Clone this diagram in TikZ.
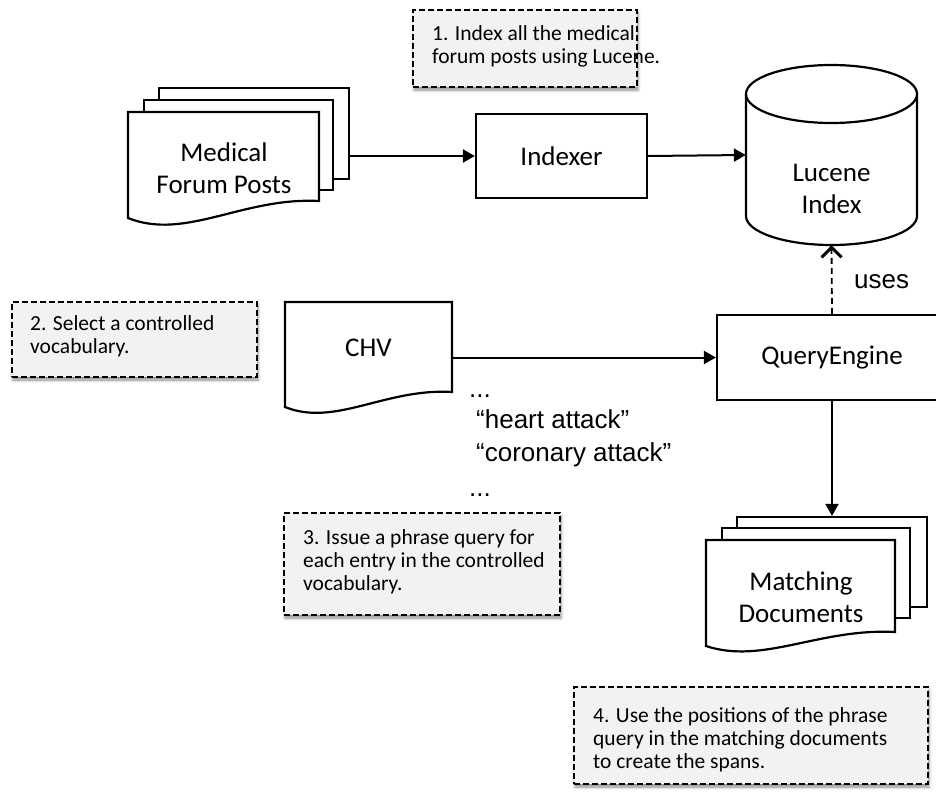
\documentclass[tikz,border=0pt]{standalone}
\usepackage{fontspec}
\setmainfont{Carlito}
\newfontfamily\arialf{Liberation Sans}
\usetikzlibrary{arrows.meta,shadows.blur,calc}
\tikzset{
 shp/.style={draw=black,line width=2.2pt,fill=white},
 layer/.style={shp,inner sep=0pt},
 lbl/.style={font=\fontsize{27}{32}\selectfont,align=center,inner sep=0pt},
 procbox/.style={shp,lbl},
 note/.style={draw=black,line width=1.6pt,dash pattern=on 6pt off 3pt,fill=black!5,
   blur shadow={shadow xshift=1pt,shadow yshift=-3pt,shadow blur radius=3pt,shadow opacity=45},inner sep=0pt},
 notetext/.style={anchor=west,align=left,inner sep=0pt,font=\fontsize{21.5}{23}\selectfont},
 arr/.style={line width=2pt,-{Triangle[length=12pt,width=13pt]}},
 usesarr/.style={line width=1.8pt,dash pattern=on 6pt off 4pt,-{Straight Barb[length=10pt,width=20pt,line width=3pt]}},
 qtext/.style={font=\arialf\fontsize{26}{31}\selectfont,anchor=base west,inner sep=0pt}
}
\newcommand\mydoc[5]{\draw[shp] (#1,#2) -- (#3,#2) -- (#3,#4) .. controls ({#1+0.6*(#3-#1)},{#4-4}) and ({#1+0.3*(#3-#1)},{#4+2.35*#5}) .. (#1,{#4+#5}) -- cycle;}
\begin{document}
\begin{tikzpicture}[x=1pt,y=-1pt]
\useasboundingbox (0,0) rectangle (936,792);
\clip (0,0) rectangle (936,792);
% notes
\node[note, minimum width=224pt, minimum height=77pt] (n1) at (525,48.5) {};
\node[notetext] (n1t) at (432,46) {1. Index all the medical\\forum posts using Lucene.};
\node[note, minimum width=245pt, minimum height=75pt] (n2) at (134.5,339.5) {};
\node[notetext] (n2t) at (30,336) {2. Select a controlled\\vocabulary.};
\node[note, minimum width=276pt, minimum height=102pt] (n3) at (422,564) {};
\node[notetext] (n3t) at (303,561.5) {3. Issue a phrase query for\\each entry in the controlled\\vocabulary.};
\node[note, minimum width=354pt, minimum height=97pt] (n4) at (751,735.5) {};
\node[notetext] (n4t) at (593,740) {4. Use the positions of the phrase\\query in the matching documents\\to create the spans.};
% medical forum posts
\node[layer, minimum width=190pt, minimum height=91pt] (mfp3) at (254,133.5) {};
\node[layer, minimum width=189pt, minimum height=90pt] (mfp2) at (238.5,145) {};
\mydoc{128}{112}{319}{201}{17}
\node[lbl] (mfp) at (224,168) {Medical\\Forum Posts};
% indexer
\node[procbox, minimum width=171pt, minimum height=84pt] (idx) at (561.5,156) {Indexer};
% cylinder
\node[minimum width=171pt, minimum height=180pt, inner sep=0pt] (cyl) at (831.5,155) {};
\draw[shp] (746,94) -- (746,216) .. controls (746,232) and (784.3,245) .. (831.5,245) .. controls (878.7,245) and (917,232) .. (917,216) -- (917,94);
\draw[shp] (831.5,94) ellipse [x radius=85.5pt, y radius=29pt];
\node[lbl] (cylt) at (831.5,189) {Lucene\\Index};
% CHV
\mydoc{285}{302}{452}{392}{15}
\node[lbl, minimum width=167pt, minimum height=90pt] (chv) at (368.5,348) {CHV};
% query engine
\node[procbox, minimum width=230pt, minimum height=85pt] (qe) at (832,357.5) {QueryEngine};
% matching documents
\node[layer, minimum width=190pt, minimum height=90pt] (md3) at (832,562) {};
\node[layer, minimum width=188pt, minimum height=90pt] (md2) at (816,573) {};
\mydoc{706}{540}{895}{632}{14}
\node[lbl] (md) at (801,597.5) {Matching\\Documents};
% texts
\node[qtext] (q1) at (469,397) {...};
\node[qtext] (q2) at (476,428) {“heart attack”};
\node[qtext] (q3) at (476,461) {“coronary attack”};
\node[qtext] (q4) at (469,496) {...};
\node[qtext] (uses) at (854,288) {uses};
% connectors
\draw[arr] (mfp3.east |- idx.west) -- (idx.west);
\draw[arr] (idx.east) -- (cyl.west);
\draw[arr] (chv.east |- qe.west) -- (qe.west);
\draw[usesarr] (qe.north) -- (cyl.south);
\draw[arr] (qe.south) -- (md3.north);
\end{tikzpicture}
\end{document}
